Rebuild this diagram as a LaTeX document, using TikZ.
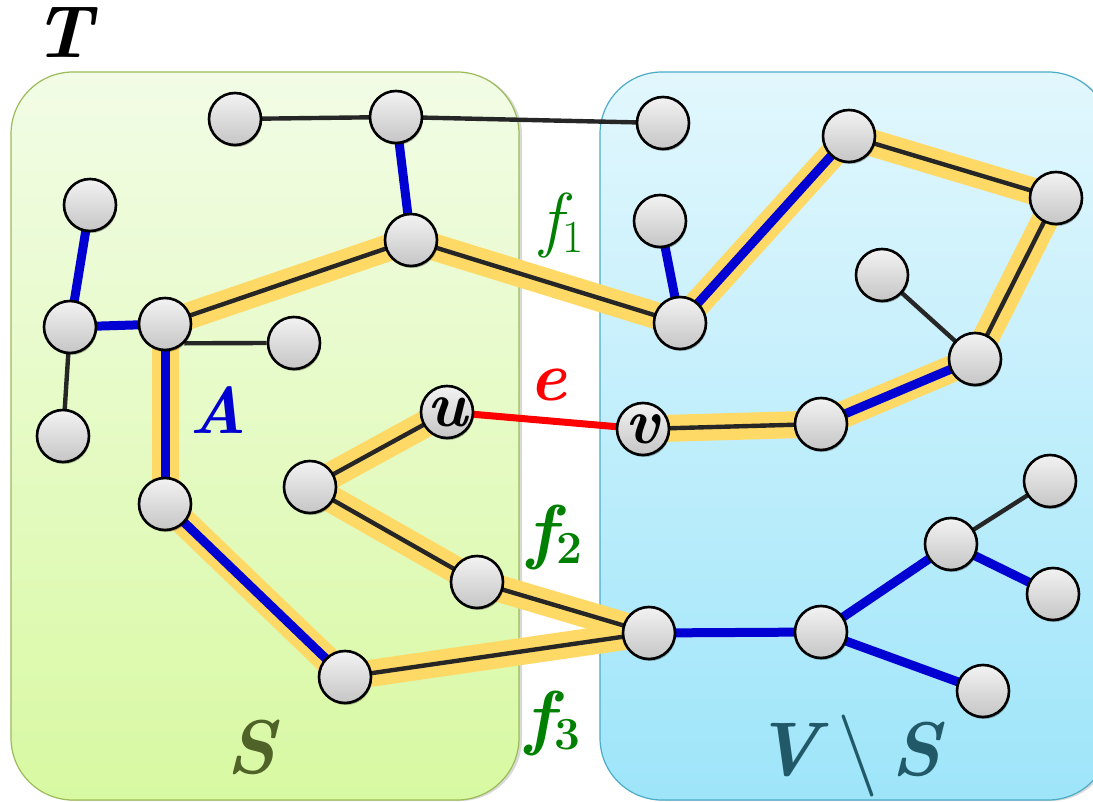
\documentclass[tikz,border=0pt]{standalone}
\usepackage{fontspec}
\usetikzlibrary{shadows}
\definecolor{gtop}{RGB}{242,252,230}
\definecolor{gbot}{RGB}{216,249,162}
\definecolor{gline}{RGB}{155,187,89}
\definecolor{btop}{RGB}{226,247,253}
\definecolor{bbot}{RGB}{158,229,250}
\definecolor{bline}{RGB}{75,172,198}
\definecolor{hly}{RGB}{255,217,102}
\definecolor{tblue}{RGB}{0,0,210}
\definecolor{fgreen}{RGB}{0,128,0}
\definecolor{solive}{RGB}{79,98,40}
\definecolor{vteal}{RGB}{33,89,104}
\newcommand{\bi}{\bfseries\itshape}
\newcommand{\subdig}[1]{\raisebox{-0.12em}{\fontsize{46}{46}\selectfont\upshape #1}}
\pgfdeclarelayer{bg}
\pgfdeclarelayer{hl}
\pgfdeclarelayer{ed}
\pgfsetlayers{bg,hl,ed,main}
\begin{document}
\begin{tikzpicture}[x=1pt,y=-1pt,
  vtx/.style={circle,draw=black,line width=2.6pt,minimum size=52pt,inner sep=0pt,
    top color=gray!10,bottom color=gray!45,
    drop shadow={opacity=0.3,shadow xshift=1pt,shadow yshift=-2pt,fill=black}},
  thinedge/.style={line width=4.4pt,draw=black!85},
  bledge/.style={line width=9pt,draw=tblue},
  hlt/.style={line width=27pt,draw=hly},
  redge/.style={line width=7pt,draw=red},
  lab/.style={inner sep=0pt}]
\clip (0,0) rectangle (1093,802);
\useasboundingbox (0,0) rectangle (1093,802);
% nodes
\node[vtx] (n1) at (235,119) {};
\node[vtx] (n2) at (396,117) {};
\node[vtx] (n3) at (90,205) {};
\node[vtx] (n4) at (411,240) {};
\node[vtx] (n5) at (70,327) {};
\node[vtx] (n6) at (165,324) {};
\node[vtx] (n7) at (294,343) {};
\node[vtx] (n8) at (63,436) {};
\node[vtx] (n9) at (165,504) {};
\node[vtx] (n10) at (310,487) {};
\node[vtx,font=\fontsize{64}{64}\selectfont\bi] (u) at (447,412) {u};
\node[vtx] (n11) at (477,582) {};
\node[vtx] (n12) at (345,677) {};
\node[vtx] (n13) at (663,123) {};
\node[vtx] (n14) at (849,136) {};
\node[vtx] (n15) at (1056,198) {};
\node[vtx] (n16) at (660,221) {};
\node[vtx] (n17) at (680,323) {};
\node[vtx] (n18) at (882,275) {};
\node[vtx] (n19) at (975,359) {};
\node[vtx,font=\fontsize{64}{64}\selectfont\bi] (v) at (643,429) {v};
\node[vtx] (n20) at (821,424) {};
\node[vtx] (n21) at (1050,481) {};
\node[vtx] (n22) at (951,544) {};
\node[vtx] (n23) at (1053,594) {};
\node[vtx] (n24) at (649,633) {};
\node[vtx] (n25) at (821,632) {};
\node[vtx] (n26) at (983,691) {};
% boxes
\begin{pgfonlayer}{bg}
\draw[rounded corners=62pt,draw=gline,line width=1.2pt,top color=gtop,bottom color=gbot,
  drop shadow={opacity=0.15,shadow xshift=3pt,shadow yshift=-1pt,fill=black}] (11,72) rectangle (519,800);
\draw[rounded corners=62pt,draw=bline,line width=1.2pt,top color=btop,bottom color=bbot,
  drop shadow={opacity=0.15,shadow xshift=3pt,shadow yshift=-1pt,fill=black}] (600,72) rectangle (1110,800);
\end{pgfonlayer}
% highlights
\begin{pgfonlayer}{hl}
\foreach \a/\b in {n6/n4,n4/n17,n17/n14,n14/n15,n15/n19,n19/n20,n20/v,u/n10,n10/n11,n11/n24,n24/n12,n12/n9,n9/n6}
  \draw[hlt] (\a.center) -- (\b.center);
\end{pgfonlayer}
% edges
\begin{pgfonlayer}{ed}
\foreach \a/\b in {n1/n2,n2/n13,n5/n8,n18/n19,n22/n21,n6/n4,n4/n17,n14/n15,n15/n19,n20/v,u/n10,n10/n11,n11/n24,n24/n12}
  \draw[thinedge] (\a.center) -- (\b.center);
\draw[thinedge] (n6.-45) -- (n7.west);
\foreach \a/\b in {n2/n4,n3/n5,n5/n6,n16/n17,n24/n25,n25/n22,n22/n23,n25/n26,n6/n9,n9/n12,n17/n14,n19/n20}
  \draw[bledge] (\a.center) -- (\b.center);
\draw[redge] (u.center) -- (v.center);
\end{pgfonlayer}
% labels
\node[lab,font=\fontsize{74}{74}\selectfont\bi] (tT) at (63,33) {T};
\node[lab,text=tblue,font=\fontsize{66}{66}\selectfont\bi] (tA) at (218,410) {A};
\node[lab,text=red,font=\fontsize{70}{70}\selectfont\bi] (te) at (548,385) {e};
\node[lab,text=fgreen,font=\fontsize{72}{72}\selectfont\itshape] (tf1) at (562,226) {f\subdig{1}};
\node[lab,text=fgreen,font=\fontsize{72}{72}\selectfont\bi] (tf2) at (555,537) {f\subdig{2}};
\node[lab,text=fgreen,font=\fontsize{72}{72}\selectfont\bi] (tf3) at (553,723) {f\subdig{3}};
\node[lab,text=solive,font=\fontsize{76}{76}\selectfont\bi] (tS) at (251,747) {S};
\node[lab,text=vteal,font=\fontsize{76}{76}\selectfont\bi,anchor=base] (tVS) at (848,775) {V\hspace{0.22em}\raisebox{-0.02em}{\fontsize{82}{82}\selectfont\mdseries\upshape\textbackslash}\hspace{0.18em}S};
\end{tikzpicture}
\end{document}
